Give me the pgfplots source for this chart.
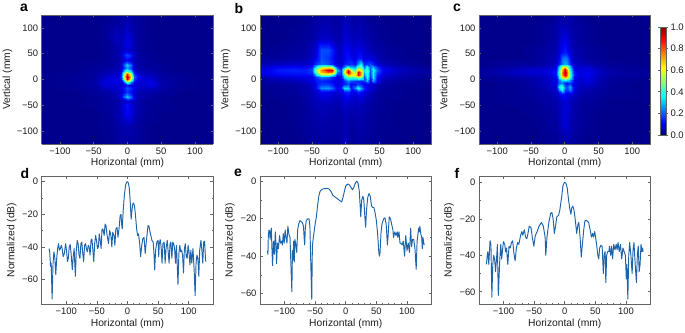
\documentclass[border=0pt]{standalone}
\usepackage{pgfplots}
\pgfplotsset{compat=1.18}
\usepackage{fontspec}
\setmainfont{Liberation Sans}
\definecolor{fr}{RGB}{100,100,100}
\definecolor{txt}{RGB}{30,30,30}
\definecolor{ln}{RGB}{30,100,170}
\pgfplotsset{
 colormap={heatjet}{rgb(0pt)=(0,0,0.45); rgb(3pt)=(0,0,0.55); rgb(7pt)=(0,0,0.68); rgb(14pt)=(0,0,0.95); rgb(20pt)=(0,0.2,1); rgb(28pt)=(0,0.6,1); rgb(36pt)=(0,1,1); rgb(62pt)=(1,1,0); rgb(89pt)=(1,0,0); rgb(100pt)=(0.5,0,0)},
 colormap={myjet}{rgb(0pt)=(0,0,0.5); rgb(11pt)=(0,0,1); rgb(36pt)=(0,1,1); rgb(62pt)=(1,1,0); rgb(89pt)=(1,0,0); rgb(100pt)=(0.5,0,0)},
 common/.style={scale only axis, anchor=south west, width=171.5pt,
  axis line style={fr,line width=.9pt}, every tick/.style={fr,line width=.6pt},
  tick label style={font=\fontsize{9.4}{11}\selectfont,text=txt},
  label style={font=\fontsize{10.3}{12}\selectfont,text=txt},
  xtick={-100,-50,0,50,100}, xticklabels={−100,−50,0,50,100},
  xlabel={Horizontal (mm)}, tick align=inside},
 heat/.style={common, colormap name=heatjet, height=129pt, xmin=-127,xmax=127,ymin=-125,ymax=125, view={0}{90}, axis on top, ztick=\empty,
  ytick={-100,-50,0,50,100}, yticklabels={−100,−50,0,50,100}, ylabel={Vertical (mm)},
  major tick length=2pt, point meta min=0, point meta max=1,
  xlabel style={at={(axis description cs:.5,-.145)},anchor=center},
  ylabel style={at={(axis description cs:-.2,.5)},anchor=center}},
 prof/.style={common, height=128pt, xmin=-140,xmax=140, enlargelimits=false, minor x tick num=4, minor y tick num=1,
  major tick length=3pt, minor tick length=1.5pt, ylabel={Normalized (dB)},
  ytick={-60,-40,-20,0}, yticklabels={−60,−40,−20,0},
  xlabel style={at={(axis description cs:.5,-.154)},anchor=center},
  ylabel style={at={(axis description cs:-.175,.5)},anchor=center}},
 line/.style={ln,line width=.95pt,line join=round,no marks},
}
\begin{document}
\begin{tikzpicture}[x=1pt,y=1pt]
\path[use as bounding box] (0,0) rectangle (685,332);
\begin{axis}[heat, at={(41.7pt,188pt)}]
\addplot3[surf,shader=interp,mesh/cols=17] table[row sep=\\] {x y z\\
-127 -125 .03\\-80 -125 .03\\-50 -125 .03\\-35 -125 .03\\-25 -125 .04\\-15 -125 .05\\-9 -125 .05\\-5 -125 .05\\0 -125 .06\\5 -125 .05\\9 -125 .05\\15 -125 .05\\25 -125 .04\\35 -125 .03\\50 -125 .03\\80 -125 .03\\127 -125 .03\\
-127 -90 .03\\-80 -90 .03\\-50 -90 .03\\-35 -90 .04\\-25 -90 .04\\-15 -90 .06\\-9 -90 .07\\-5 -90 .07\\0 -90 .08\\5 -90 .07\\9 -90 .06\\15 -90 .05\\25 -90 .04\\35 -90 .03\\50 -90 .03\\80 -90 .03\\127 -90 .03\\
-127 -68 .03\\-80 -68 .03\\-50 -68 .03\\-35 -68 .04\\-25 -68 .05\\-15 -68 .07\\-9 -68 .09\\-5 -68 .12\\0 -68 .14\\5 -68 .12\\9 -68 .08\\15 -68 .06\\25 -68 .05\\35 -68 .04\\50 -68 .03\\80 -68 .03\\127 -68 .03\\
-127 -49 .03\\-80 -49 .03\\-50 -49 .04\\-35 -49 .05\\-25 -49 .05\\-15 -49 .07\\-9 -49 .09\\-5 -49 .13\\0 -49 .16\\5 -49 .13\\9 -49 .09\\15 -49 .07\\25 -49 .05\\35 -49 .04\\50 -49 .04\\80 -49 .03\\127 -49 .03\\
-127 -41 .03\\-80 -41 .03\\-50 -41 .04\\-35 -41 .05\\-25 -41 .05\\-15 -41 .06\\-9 -41 .08\\-5 -41 .09\\0 -41 .10\\5 -41 .09\\9 -41 .08\\15 -41 .06\\25 -41 .05\\35 -41 .04\\50 -41 .04\\80 -41 .03\\127 -41 .03\\
-127 -33 .03\\-80 -33 .03\\-50 -33 .04\\-35 -33 .05\\-25 -33 .06\\-15 -33 .08\\-9 -33 .12\\-5 -33 .24\\0 -33 .32\\5 -33 .24\\9 -33 .12\\15 -33 .08\\25 -33 .06\\35 -33 .05\\50 -33 .04\\80 -33 .03\\127 -33 .03\\
-127 -25 .03\\-80 -25 .03\\-50 -25 .05\\-35 -25 .06\\-25 -25 .07\\-15 -25 .09\\-9 -25 .10\\-5 -25 .15\\0 -25 .20\\5 -25 .15\\9 -25 .10\\15 -25 .08\\25 -25 .07\\35 -25 .06\\50 -25 .05\\80 -25 .03\\127 -25 .03\\
-127 -17 .03\\-80 -17 .04\\-50 -17 .05\\-35 -17 .08\\-25 -17 .09\\-15 -17 .10\\-9 -17 .12\\-5 -17 .17\\0 -17 .22\\5 -17 .18\\9 -17 .13\\15 -17 .10\\25 -17 .09\\35 -17 .09\\50 -17 .06\\80 -17 .04\\127 -17 .03\\
-127 -10 .03\\-80 -10 .04\\-50 -10 .06\\-35 -10 .11\\-25 -10 .10\\-15 -10 .11\\-9 -10 .10\\-5 -10 .12\\0 -10 .16\\5 -10 .12\\9 -10 .13\\15 -10 .10\\25 -10 .11\\35 -10 .13\\50 -10 .07\\80 -10 .04\\127 -10 .03\\
-127 -4 .03\\-80 -4 .04\\-50 -4 .06\\-35 -4 .12\\-25 -4 .12\\-15 -4 .12\\-9 -4 .11\\-5 -4 .24\\0 -4 .48\\5 -4 .26\\9 -4 .13\\15 -4 .11\\25 -4 .10\\35 -4 .13\\50 -4 .07\\80 -4 .04\\127 -4 .03\\
-127 1 .03\\-80 1 .04\\-50 1 .05\\-35 1 .10\\-25 1 .13\\-15 1 .12\\-9 1 .16\\-5 1 .52\\0 1 .92\\5 1 .55\\9 1 .20\\15 1 .13\\25 1 .11\\35 1 .11\\50 1 .06\\80 1 .04\\127 1 .03\\
-127 5 .03\\-80 5 .04\\-50 5 .05\\-35 5 .09\\-25 5 .11\\-15 5 .11\\-9 5 .18\\-5 5 .58\\0 5 1\\5 5 .62\\9 5 .24\\15 5 .15\\25 5 .10\\35 5 .09\\50 5 .06\\80 5 .04\\127 5 .03\\
-127 10 .03\\-80 10 .04\\-50 10 .05\\-35 10 .08\\-25 10 .09\\-15 10 .10\\-9 10 .16\\-5 10 .52\\0 10 .86\\5 10 .54\\9 10 .20\\15 10 .12\\25 10 .09\\35 10 .08\\50 10 .05\\80 10 .04\\127 10 .03\\
-127 16 .03\\-80 16 .03\\-50 16 .05\\-35 16 .06\\-25 16 .07\\-15 16 .09\\-9 16 .12\\-5 16 .32\\0 16 .46\\5 16 .32\\9 16 .13\\15 16 .08\\25 16 .07\\35 16 .06\\50 16 .05\\80 16 .03\\127 16 .03\\
-127 22 .03\\-80 22 .03\\-50 22 .04\\-35 22 .05\\-25 22 .06\\-15 22 .07\\-9 22 .09\\-5 22 .20\\0 22 .28\\5 22 .20\\9 22 .09\\15 22 .07\\25 22 .06\\35 22 .05\\50 22 .04\\80 22 .03\\127 22 .03\\
-127 28 .03\\-80 28 .03\\-50 28 .04\\-35 28 .05\\-25 28 .05\\-15 28 .07\\-9 28 .09\\-5 28 .24\\0 28 .33\\5 28 .24\\9 28 .09\\15 28 .07\\25 28 .05\\35 28 .05\\50 28 .04\\80 28 .03\\127 28 .03\\
-127 37 .03\\-80 37 .03\\-50 37 .03\\-35 37 .04\\-25 37 .05\\-15 37 .06\\-9 37 .07\\-5 37 .11\\0 37 .14\\5 37 .11\\9 37 .07\\15 37 .06\\25 37 .05\\35 37 .04\\50 37 .03\\80 37 .03\\127 37 .03\\
-127 47 .03\\-80 47 .03\\-50 47 .03\\-35 47 .04\\-25 47 .05\\-15 47 .07\\-9 47 .09\\-5 47 .17\\0 47 .22\\5 47 .17\\9 47 .09\\15 47 .06\\25 47 .05\\35 47 .04\\50 47 .03\\80 47 .03\\127 47 .03\\
-127 57 .03\\-80 57 .03\\-50 57 .03\\-35 57 .04\\-25 57 .05\\-15 57 .07\\-9 57 .08\\-5 57 .09\\0 57 .10\\5 57 .09\\9 57 .07\\15 57 .05\\25 57 .04\\35 57 .04\\50 57 .03\\80 57 .03\\127 57 .03\\
-127 66 .03\\-80 66 .03\\-50 66 .03\\-35 66 .04\\-25 66 .05\\-15 66 .07\\-9 66 .08\\-5 66 .11\\0 66 .13\\5 66 .11\\9 66 .07\\15 66 .05\\25 66 .04\\35 66 .04\\50 66 .03\\80 66 .03\\127 66 .03\\
-127 85 .03\\-80 85 .03\\-50 85 .03\\-35 85 .04\\-25 85 .07\\-15 85 .09\\-9 85 .07\\-5 85 .09\\0 85 .12\\5 85 .09\\9 85 .07\\15 85 .05\\25 85 .04\\35 85 .03\\50 85 .03\\80 85 .03\\127 85 .03\\
-127 105 .03\\-80 105 .03\\-50 105 .03\\-35 105 .04\\-25 105 .05\\-15 105 .06\\-9 105 .06\\-5 105 .07\\0 105 .09\\5 105 .07\\9 105 .06\\15 105 .05\\25 105 .04\\35 105 .03\\50 105 .03\\80 105 .03\\127 105 .03\\
-127 125 .03\\-80 125 .03\\-50 125 .03\\-35 125 .03\\-25 125 .04\\-15 125 .05\\-9 125 .05\\-5 125 .06\\0 125 .07\\5 125 .06\\9 125 .05\\15 125 .05\\25 125 .04\\35 125 .03\\50 125 .03\\80 125 .03\\127 125 .03\\
};
\end{axis}
\begin{axis}[heat, at={(260pt,188pt)}]
\addplot3[surf,shader=interp,mesh/cols=26] table[row sep=\\] {x y z\\
-127 -125 .03\\-100 -125 .03\\-75 -125 .03\\-60 -125 .04\\-50 -125 .05\\-44 -125 .05\\-36 -125 .05\\-26 -125 .05\\-20 -125 .05\\-13 -125 .05\\-7 -125 .06\\-2 -125 .08\\3 -125 .06\\8 -125 .05\\13 -125 .05\\18 -125 .06\\23 -125 .05\\27 -125 .05\\31 -125 .05\\36 -125 .05\\41 -125 .04\\46 -125 .04\\55 -125 .03\\75 -125 .03\\100 -125 .03\\127 -125 .03\\
-127 -75 .03\\-100 -75 .03\\-75 -75 .04\\-60 -75 .05\\-50 -75 .06\\-44 -75 .06\\-36 -75 .07\\-26 -75 .07\\-20 -75 .06\\-13 -75 .06\\-7 -75 .06\\-2 -75 .08\\3 -75 .07\\8 -75 .06\\13 -75 .06\\18 -75 .07\\23 -75 .07\\27 -75 .06\\31 -75 .05\\36 -75 .05\\41 -75 .05\\46 -75 .04\\55 -75 .04\\75 -75 .03\\100 -75 .03\\127 -75 .03\\
-127 -48 .03\\-100 -48 .03\\-75 -48 .04\\-60 -48 .05\\-50 -48 .07\\-44 -48 .08\\-36 -48 .08\\-26 -48 .08\\-20 -48 .08\\-13 -48 .07\\-7 -48 .08\\-2 -48 .10\\3 -48 .09\\8 -48 .09\\13 -48 .08\\18 -48 .09\\23 -48 .09\\27 -48 .07\\31 -48 .07\\36 -48 .06\\41 -48 .05\\46 -48 .05\\55 -48 .04\\75 -48 .03\\100 -48 .03\\127 -48 .03\\
-127 -33 .03\\-100 -33 .04\\-75 -33 .04\\-60 -33 .06\\-50 -33 .08\\-44 -33 .09\\-36 -33 .11\\-26 -33 .11\\-20 -33 .10\\-13 -33 .09\\-7 -33 .10\\-2 -33 .13\\3 -33 .14\\8 -33 .11\\13 -33 .10\\18 -33 .12\\23 -33 .12\\27 -33 .10\\31 -33 .08\\36 -33 .08\\41 -33 .06\\46 -33 .05\\55 -33 .04\\75 -33 .04\\100 -33 .03\\127 -33 .03\\
-127 -24 .03\\-100 -24 .04\\-75 -24 .05\\-60 -24 .07\\-50 -24 .08\\-44 -24 .10\\-36 -24 .14\\-26 -24 .14\\-20 -24 .12\\-13 -24 .10\\-7 -24 .12\\-2 -24 .16\\3 -24 .18\\8 -24 .14\\13 -24 .13\\18 -24 .17\\23 -24 .15\\27 -24 .12\\31 -24 .10\\36 -24 .09\\41 -24 .07\\46 -24 .06\\55 -24 .05\\75 -24 .04\\100 -24 .03\\127 -24 .03\\
-127 -16 .04\\-100 -16 .04\\-75 -16 .05\\-60 -16 .07\\-50 -16 .09\\-44 -16 .15\\-36 -16 .27\\-26 -16 .28\\-20 -16 .24\\-13 -16 .14\\-7 -16 .16\\-2 -16 .34\\3 -16 .34\\8 -16 .16\\13 -16 .26\\18 -16 .38\\23 -16 .28\\27 -16 .18\\31 -16 .14\\36 -16 .12\\41 -16 .09\\46 -16 .07\\55 -16 .05\\75 -16 .04\\100 -16 .03\\127 -16 .03\\
-127 -8 .04\\-100 -8 .05\\-75 -8 .06\\-60 -8 .08\\-50 -8 .10\\-44 -8 .15\\-36 -8 .20\\-26 -8 .20\\-20 -8 .17\\-13 -8 .12\\-7 -8 .12\\-2 -8 .18\\3 -8 .22\\8 -8 .14\\13 -8 .16\\18 -8 .20\\23 -8 .18\\27 -8 .14\\31 -8 .12\\36 -8 .12\\41 -8 .10\\46 -8 .08\\55 -8 .06\\75 -8 .04\\100 -8 .04\\127 -8 .03\\
-127 -2 .05\\-100 -2 .07\\-75 -2 .08\\-60 -2 .10\\-50 -2 .12\\-44 -2 .16\\-36 -2 .18\\-26 -2 .16\\-20 -2 .14\\-13 -2 .12\\-7 -2 .13\\-2 -2 .18\\3 -2 .26\\8 -2 .22\\13 -2 .20\\18 -2 .18\\23 -2 .16\\27 -2 .20\\31 -2 .30\\36 -2 .14\\41 -2 .28\\46 -2 .14\\55 -2 .07\\75 -2 .05\\100 -2 .04\\127 -2 .03\\
-127 4 .07\\-100 4 .10\\-75 4 .11\\-60 4 .12\\-50 4 .13\\-44 4 .20\\-36 4 .26\\-26 4 .24\\-20 4 .18\\-13 4 .12\\-7 4 .16\\-2 4 .34\\3 4 .46\\8 4 .44\\13 4 .46\\18 4 .55\\23 4 .48\\27 4 .22\\31 4 .40\\36 4 .18\\41 4 .36\\46 4 .16\\55 4 .09\\75 4 .07\\100 4 .05\\127 4 .04\\
-127 9 .10\\-100 9 .14\\-75 9 .15\\-60 9 .15\\-50 9 .16\\-44 9 .32\\-36 9 .48\\-26 9 .50\\-20 9 .40\\-13 9 .16\\-7 9 .18\\-2 9 .42\\3 9 .70\\8 9 .62\\13 9 .62\\18 9 .88\\23 9 .70\\27 9 .26\\31 9 .42\\36 9 .20\\41 9 .36\\46 9 .18\\55 9 .11\\75 9 .08\\100 9 .06\\127 9 .04\\
-127 14 .12\\-100 14 .16\\-75 14 .17\\-60 14 .17\\-50 14 .20\\-44 14 .48\\-36 14 .70\\-26 14 .80\\-20 14 .78\\-13 14 .26\\-7 14 .20\\-2 14 .55\\3 14 .95\\8 14 .70\\13 14 .48\\18 14 .92\\23 14 .72\\27 14 .32\\31 14 .44\\36 14 .22\\41 14 .36\\46 14 .22\\55 14 .13\\75 14 .09\\100 14 .06\\127 14 .05\\
-127 19 .12\\-100 19 .17\\-75 19 .18\\-60 19 .17\\-50 19 .22\\-44 19 .50\\-36 19 .74\\-26 19 .92\\-20 19 .92\\-13 19 .32\\-7 19 .20\\-2 19 .50\\3 19 .88\\8 19 .55\\13 19 .42\\18 19 .68\\23 19 .62\\27 19 .34\\31 19 .48\\36 19 .22\\41 19 .38\\46 19 .24\\55 19 .14\\75 19 .10\\100 19 .07\\127 19 .05\\
-127 25 .10\\-100 25 .14\\-75 25 .15\\-60 25 .14\\-50 25 .18\\-44 25 .36\\-36 25 .52\\-26 25 .58\\-20 25 .52\\-13 25 .20\\-7 25 .14\\-2 25 .26\\3 25 .40\\8 25 .30\\13 25 .28\\18 25 .45\\23 25 .48\\27 25 .24\\31 25 .38\\36 25 .24\\41 25 .30\\46 25 .20\\55 25 .12\\75 25 .08\\100 25 .06\\127 25 .04\\
-127 31 .07\\-100 31 .09\\-75 31 .10\\-60 31 .10\\-50 31 .12\\-44 31 .20\\-36 31 .24\\-26 31 .22\\-20 31 .18\\-13 31 .12\\-7 31 .10\\-2 31 .16\\3 31 .18\\8 31 .20\\13 31 .16\\18 31 .28\\23 31 .36\\27 31 .18\\31 31 .20\\36 31 .22\\41 31 .18\\46 31 .12\\55 31 .08\\75 31 .06\\100 31 .04\\127 31 .03\\
-127 41 .05\\-100 41 .05\\-75 41 .06\\-60 41 .07\\-50 41 .09\\-44 41 .14\\-36 41 .22\\-26 41 .20\\-20 41 .16\\-13 41 .10\\-7 41 .10\\-2 41 .14\\3 41 .16\\8 41 .14\\13 41 .12\\18 41 .16\\23 41 .16\\27 41 .12\\31 41 .12\\36 41 .12\\41 41 .10\\46 41 .08\\55 41 .06\\75 41 .04\\100 41 .03\\127 41 .03\\
-127 57 .03\\-100 57 .04\\-75 57 .05\\-60 57 .06\\-50 57 .08\\-44 57 .12\\-36 57 .22\\-26 57 .22\\-20 57 .18\\-13 57 .10\\-7 57 .09\\-2 57 .14\\3 57 .14\\8 57 .12\\13 57 .11\\18 57 .14\\23 57 .12\\27 57 .10\\31 57 .09\\36 57 .08\\41 57 .07\\46 57 .06\\55 57 .05\\75 57 .04\\100 57 .03\\127 57 .03\\
-127 80 .03\\-100 80 .03\\-75 80 .04\\-60 80 .05\\-50 80 .06\\-44 80 .07\\-36 80 .09\\-26 80 .09\\-20 80 .08\\-13 80 .07\\-7 80 .07\\-2 80 .11\\3 80 .10\\8 80 .09\\13 80 .08\\18 80 .09\\23 80 .09\\27 80 .07\\31 80 .07\\36 80 .06\\41 80 .05\\46 80 .05\\55 80 .04\\75 80 .03\\100 80 .03\\127 80 .03\\
-127 125 .03\\-100 125 .03\\-75 125 .03\\-60 125 .04\\-50 125 .05\\-44 125 .05\\-36 125 .06\\-26 125 .06\\-20 125 .05\\-13 125 .05\\-7 125 .06\\-2 125 .08\\3 125 .07\\8 125 .06\\13 125 .05\\18 125 .06\\23 125 .06\\27 125 .05\\31 125 .05\\36 125 .04\\41 125 .04\\46 125 .04\\55 125 .03\\75 125 .03\\100 125 .03\\127 125 .03\\
};
\end{axis}
\begin{axis}[heat, at={(479pt,188pt)}]
\addplot3[surf,shader=interp,mesh/cols=17] table[row sep=\\] {x y z\\
-127 -125 .03\\-70 -125 .03\\-50 -125 .03\\-35 -125 .03\\-22 -125 .04\\-13 -125 .04\\-8 -125 .05\\-4 -125 .05\\0 -125 .06\\4 -125 .06\\8 -125 .06\\13 -125 .05\\22 -125 .04\\35 -125 .03\\50 -125 .03\\70 -125 .03\\127 -125 .03\\
-127 -85 .03\\-70 -85 .03\\-50 -85 .03\\-35 -85 .04\\-22 -85 .05\\-13 -85 .05\\-8 -85 .08\\-4 -85 .09\\0 -85 .12\\4 -85 .10\\8 -85 .08\\13 -85 .06\\22 -85 .05\\35 -85 .04\\50 -85 .03\\70 -85 .03\\127 -85 .03\\
-127 -65 .03\\-70 -65 .03\\-50 -65 .04\\-35 -65 .04\\-22 -65 .05\\-13 -65 .06\\-8 -65 .08\\-4 -65 .10\\0 -65 .11\\4 -65 .10\\8 -65 .09\\13 -65 .06\\22 -65 .05\\35 -65 .04\\50 -65 .03\\70 -65 .03\\127 -65 .03\\
-127 -42 .03\\-70 -42 .04\\-50 -42 .04\\-35 -42 .05\\-22 -42 .06\\-13 -42 .07\\-8 -42 .09\\-4 -42 .10\\0 -42 .12\\4 -42 .11\\8 -42 .09\\13 -42 .07\\22 -42 .05\\35 -42 .05\\50 -42 .04\\70 -42 .03\\127 -42 .03\\
-127 -28 .03\\-70 -28 .04\\-50 -28 .05\\-35 -28 .06\\-22 -28 .07\\-13 -28 .08\\-8 -28 .12\\-4 -28 .16\\0 -28 .14\\4 -28 .12\\8 -28 .12\\13 -28 .09\\22 -28 .07\\35 -28 .06\\50 -28 .05\\70 -28 .04\\127 -28 .03\\
-127 -20 .03\\-70 -20 .04\\-50 -20 .05\\-35 -20 .06\\-22 -20 .08\\-13 -20 .10\\-8 -20 .26\\-4 -20 .36\\0 -20 .20\\4 -20 .20\\8 -20 .26\\13 -20 .11\\22 -20 .08\\35 -20 .07\\50 -20 .05\\70 -20 .04\\127 -20 .03\\
-127 -14 .03\\-70 -14 .04\\-50 -14 .05\\-35 -14 .07\\-22 -14 .09\\-13 -14 .12\\-8 -14 .36\\-4 -14 .44\\0 -14 .24\\4 -14 .22\\8 -14 .30\\13 -14 .12\\22 -14 .09\\35 -14 .08\\50 -14 .06\\70 -14 .04\\127 -14 .03\\
-127 -7 .03\\-70 -7 .04\\-50 -7 .06\\-35 -7 .08\\-22 -7 .10\\-13 -7 .12\\-8 -7 .24\\-4 -7 .26\\0 -7 .18\\4 -7 .16\\8 -7 .20\\13 -7 .12\\22 -7 .10\\35 -7 .11\\50 -7 .07\\70 -7 .04\\127 -7 .03\\
-127 -1 .04\\-70 -1 .05\\-50 -1 .06\\-35 -1 .08\\-22 -1 .10\\-13 -1 .12\\-8 -1 .26\\-4 -1 .34\\0 -1 .36\\4 -1 .34\\8 -1 .28\\13 -1 .13\\22 -1 .10\\35 -1 .12\\50 -1 .07\\70 -1 .05\\127 -1 .03\\
-127 4 .04\\-70 4 .06\\-50 4 .07\\-35 4 .08\\-22 4 .11\\-13 4 .13\\-8 4 .38\\-4 4 .62\\0 4 .76\\4 4 .64\\8 4 .40\\13 4 .15\\22 4 .11\\35 4 .13\\50 4 .08\\70 4 .05\\127 4 .04\\
-127 9 .04\\-70 9 .08\\-50 9 .09\\-35 9 .09\\-22 9 .12\\-13 9 .16\\-8 9 .42\\-4 9 .72\\0 9 .95\\4 9 .76\\8 9 .42\\13 9 .17\\22 9 .12\\35 9 .14\\50 9 .09\\70 9 .06\\127 9 .04\\
-127 15 .05\\-70 15 .09\\-50 15 .11\\-35 15 .11\\-22 15 .13\\-13 15 .17\\-8 15 .42\\-4 15 .74\\0 15 1\\4 15 .78\\8 15 .40\\13 15 .16\\22 15 .12\\35 15 .13\\50 15 .09\\70 15 .06\\127 15 .04\\
-127 21 .04\\-70 21 .08\\-50 21 .10\\-35 21 .10\\-22 21 .11\\-13 21 .14\\-8 21 .38\\-4 21 .66\\0 21 .90\\4 21 .68\\8 21 .36\\13 21 .13\\22 21 .11\\35 21 .12\\50 21 .08\\70 21 .05\\127 21 .04\\
-127 26 .04\\-70 26 .06\\-50 26 .07\\-35 26 .08\\-22 26 .09\\-13 26 .12\\-8 26 .30\\-4 26 .48\\0 26 .54\\4 26 .48\\8 26 .30\\13 26 .11\\22 26 .10\\35 26 .10\\50 26 .07\\70 26 .05\\127 26 .03\\
-127 31 .03\\-70 31 .05\\-50 31 .05\\-35 31 .06\\-22 31 .08\\-13 31 .09\\-8 31 .18\\-4 31 .26\\0 31 .30\\4 31 .28\\8 31 .18\\13 31 .09\\22 31 .08\\35 31 .07\\50 31 .05\\70 31 .04\\127 31 .03\\
-127 41 .03\\-70 41 .03\\-50 41 .04\\-35 41 .05\\-22 41 .07\\-13 41 .08\\-8 41 .14\\-4 41 .24\\0 41 .26\\4 41 .24\\8 41 .14\\13 41 .08\\22 41 .07\\35 41 .05\\50 41 .04\\70 41 .03\\127 41 .03\\
-127 54 .03\\-70 54 .03\\-50 54 .04\\-35 54 .05\\-22 54 .06\\-13 54 .08\\-8 54 .11\\-4 54 .15\\0 54 .17\\4 54 .15\\8 54 .11\\13 54 .07\\22 54 .06\\35 54 .05\\50 54 .04\\70 54 .03\\127 54 .03\\
-127 76 .03\\-70 76 .03\\-50 76 .03\\-35 76 .04\\-22 76 .05\\-13 76 .06\\-8 76 .09\\-4 76 .12\\0 76 .13\\4 76 .11\\8 76 .09\\13 76 .06\\22 76 .05\\35 76 .04\\50 76 .03\\70 76 .03\\127 76 .03\\
-127 100 .03\\-70 100 .03\\-50 100 .03\\-35 100 .04\\-22 100 .05\\-13 100 .06\\-8 100 .08\\-4 100 .08\\0 100 .09\\4 100 .08\\8 100 .07\\13 100 .06\\22 100 .05\\35 100 .04\\50 100 .03\\70 100 .03\\127 100 .03\\
-127 125 .03\\-70 125 .03\\-50 125 .03\\-35 125 .03\\-22 125 .04\\-13 125 .05\\-8 125 .06\\-4 125 .06\\0 125 .06\\4 125 .06\\8 125 .06\\13 125 .05\\22 125 .04\\35 125 .03\\50 125 .03\\70 125 .03\\127 125 .03\\
};
\end{axis}
\begin{axis}[scale only axis, anchor=south west, colormap name=myjet, at={(660pt,197pt)}, width=6pt, height=108pt, view={0}{90},
 xmin=0,xmax=1,ymin=0,ymax=1,xtick=\empty,ztick=\empty, axis on top,
 ytick={0,.2,.4,.6,.8,1}, yticklabels={0.0,0.2,0.4,0.6,0.8,1.0}, yticklabel pos=right, y tick label style={xshift=-1pt},
 axis line style={fr,line width=.7pt}, every tick/.style={fr,line width=.6pt}, tick align=outside, major tick length=2pt,
 tick label style={font=\fontsize{9.5}{11}\selectfont,text=txt}, point meta min=0, point meta max=1]
\addplot3[surf,shader=interp,mesh/cols=2] table[row sep=\\] {x y z\\0 0 0\\1 0 0\\0 1 1\\1 1 1\\};
\end{axis}
\begin{axis}[prof, at={(41.7pt,28pt)}, ymin=-75, ymax=3.5]
\addplot[line] coordinates {(-128,-41)(-127,-43)(-125.5,-52)(-124.5,-50)(-123,-72)(-121.5,-50)(-120,-43)(-118.5,-47)(-117,-57)(-115.5,-47)(-114,-41)(-112.5,-38)(-111,-42)(-109.5,-41)(-108,-39)(-106.5,-41)(-105,-46)(-103,-44)(-101,-38)(-99.5,-42)(-98,-49)(-96.5,-47)(-95,-40)(-93.5,-38.5)(-92,-44)(-90,-54)(-88.5,-46)(-87,-41)(-86,-50)(-85,-58)(-83.5,-42)(-82,-36)(-80.5,-38)(-79,-45)(-77.5,-47)(-76,-38)(-74.5,-37)(-73,-44)(-71.5,-49)(-70,-39)(-68.5,-38)(-67,-41)(-65.5,-43)(-64,-39)(-62.5,-40)(-61,-45)(-59.5,-36)(-58,-35)(-56.5,-42)(-55,-49)(-53.5,-38)(-52,-33)(-50.5,-36)(-49,-41)(-47.5,-40)(-46,-32)(-44.5,-36)(-43,-41)(-41.5,-29)(-40,-29)(-38,-33)(-36.5,-26)(-35,-27)(-33.5,-32)(-31,-38)(-29,-30)(-27,-33)(-25.5,-40)(-24,-31)(-22,-33)(-20.5,-39)(-19,-29)(-17,-28)(-15.5,-34)(-13.5,-28)(-12,-21)(-10.5,-20)(-9.5,-26)(-8.5,-29)(-7,-18)(-5,-8)(-3,-2)(-1.5,-0.3)(0,0)(1.5,-0.8)(3,-4)(4.5,-12)(6,-23)(7,-19)(8.5,-14)(10,-13)(11.5,-15)(13,-20)(15,-29)(16.5,-33)(18,-32)(20,-38)(21.5,-46)(23,-40)(25,-35)(27,-34)(29,-44)(31,-36)(33.5,-27)(35,-27)(37,-31)(40,-36)(42,-37)(43.5,-45)(44.5,-54)(46,-42)(48,-37)(50,-36)(51,-46)(52,-38)(53.5,-35.5)(55,-40)(56.5,-50)(58,-38)(60,-37)(61.5,-50)(63,-41)(65,-36)(66.5,-43)(68,-50)(69.5,-38)(71,-37)(72.5,-47)(74,-37)(75.5,-38)(77,-41)(78.5,-50)(80,-39)(81,-48)(82.5,-63)(84,-44)(85.5,-39)(87,-43)(88.5,-42)(90,-45)(91.5,-56)(93,-41)(94.5,-38)(96,-46)(97.5,-47)(99,-39)(100.5,-43)(102,-51)(103.5,-42)(105,-50)(107,-41)(109,-55)(110.5,-70)(112,-50)(113.5,-45)(115,-47)(116.5,-58)(118,-42)(120,-36)(121.5,-42)(123,-50)(124.5,-37)(126,-36.5)(127.5,-48)(128,-49)};
\end{axis}
\begin{axis}[prof, at={(260pt,28pt)}, ymin=-65.5, ymax=2.8]
\addplot[line] coordinates {(-128,-37)(-127,-39)(-126.5,-30)(-125.5,-26)(-124.5,-26.5)(-123.5,-31)(-122.5,-27)(-121.5,-25)(-120.5,-36)(-119.5,-45)(-118,-32)(-116.5,-39)(-115,-27)(-114,-33)(-113,-44)(-111.5,-33)(-110,-36)(-108,-29)(-106.5,-33)(-105,-32)(-103.5,-34)(-102,-28)(-100.5,-33)(-99,-26)(-97.5,-30)(-96,-33)(-94.5,-24)(-93,-28)(-91,-30)(-89.5,-45)(-88,-59)(-87,-37)(-86,-42)(-85,-32)(-84,-43)(-83,-31)(-81.5,-34)(-80,-38)(-78.5,-26)(-77,-23)(-75,-21)(-73,-21.5)(-71,-22)(-69,-24)(-68,-30)(-67,-34)(-66,-25)(-64.5,-21)(-62,-20)(-60,-20)(-58.5,-24)(-57,-45)(-55.5,-63)(-54.5,-35)(-53,-30)(-50,-23)(-48,-19)(-46,-13)(-44,-8)(-42,-5.5)(-39,-4.3)(-35,-4)(-30,-3.8)(-27,-4.2)(-24,-5.5)(-21,-7.5)(-17,-8.5)(-13,-9.5)(-9,-10.5)(-6.5,-11)(-4,-8)(-2,-5)(0,-2.5)(2,-1.8)(4,-1.5)(6,-2)(9,-3.5)(11,-4.5)(13,-3.5)(15,-1.5)(17,-0.3)(18.5,0)(20,-1)(22,-5)(23.5,-13)(24.5,-19)(26,-10)(28,-8)(29.5,-10)(31,-18)(32.5,-24.5)(34,-15)(36,-8.5)(38,-6.5)(40,-8)(42,-13)(44,-14)(46,-14)(48,-17)(50,-21)(52,-28)(54,-38)(55,-40)(56,-38)(57.5,-28)(59,-23)(62,-20)(64,-19.5)(66,-23)(68,-34)(69,-30)(71,-19)(73,-20)(75,-23)(77,-26)(78,-30)(80,-27)(82,-29)(84,-27)(85,-30)(87,-27)(88.5,-33)(90,-33)(92,-34)(94,-32)(96,-40)(98,-29)(100,-37)(102,-33)(104,-38)(106,-25)(107.5,-35)(109,-31)(111,-31)(113,-36)(115,-47)(116.5,-32)(118,-28)(119,-25)(120,-27)(121,-24)(122.5,-28)(124,-30)(125,-36)(126,-30)(127.5,-33)(128,-34)};
\end{axis}
\begin{axis}[prof, at={(479pt,28pt)}, ymin=-66.7, ymax=3.5]
\addplot[line] coordinates {(-128,-45)(-126.5,-40)(-125.5,-38)(-124,-45)(-122,-32)(-120.5,-34)(-119,-63)(-117.5,-45)(-116,-40)(-114.5,-42)(-113,-49)(-111,-40)(-110,-34)(-108.5,-62)(-106,-42)(-104.5,-34)(-103,-42)(-101,-35)(-100,-32.5)(-98,-34)(-96.5,-38)(-95,-36)(-93,-45)(-91,-35)(-89,-36)(-87,-33)(-85,-32)(-83,-39)(-81,-43)(-79,-36)(-77,-33)(-75,-34)(-72,-29)(-70,-27)(-68.5,-29)(-66,-26)(-64,-30)(-62,-31)(-60,-28)(-58,-24)(-55,-25)(-53,-30)(-50.5,-35)(-48,-29)(-45,-27)(-42,-24)(-38,-22)(-35,-24)(-32,-30)(-31,-40)(-29,-30)(-26,-22)(-23,-17)(-21,-16.5)(-19,-20)(-17,-28)(-15.5,-25)(-13,-19)(-10,-18)(-8,-15)(-5,-8)(-3,-2)(-1,-0.2)(0,0)(2,-0.5)(4,-3)(6,-9)(8,-14)(10,-17.5)(11.5,-14)(13,-13)(15,-15)(17,-20)(19.5,-28)(21.5,-23)(23,-22)(25,-30)(27,-41)(28.5,-35)(31,-26)(33,-21)(36,-21)(39,-22)(42,-27)(43.5,-30)(45.5,-28)(47,-30)(49,-27)(52,-34)(54,-40)(55.5,-42)(57,-36)(59,-34.5)(61,-35)(63,-50)(64.5,-39)(66,-38)(67,-55)(68.5,-40)(70,-38)(72,-38)(73,-35)(75,-40)(76.5,-35)(78,-42)(80,-34)(82,-37)(84,-34)(85.5,-37)(87,-33)(89,-38)(91,-34)(93,-42)(95,-36)(97,-38)(99,-40)(100.5,-53)(101.5,-45)(103,-64)(104.5,-40)(106,-33)(108,-40)(110,-50)(111.5,-37)(113,-33)(115,-45)(117,-55)(118.5,-40)(120,-35)(121.5,-49)(123,-45)(124.5,-34)(126,-38)(127,-36)(128,-38)};
\end{axis}
\foreach \l/\x/\y in {a/24/324,b/239/324,c/457/324,d/25/159,e/238/159,f/457/159}
 \node[font=\fontsize{14}{16}\selectfont\bfseries] at (\x,\y) {\l};
\end{tikzpicture}
\end{document}
